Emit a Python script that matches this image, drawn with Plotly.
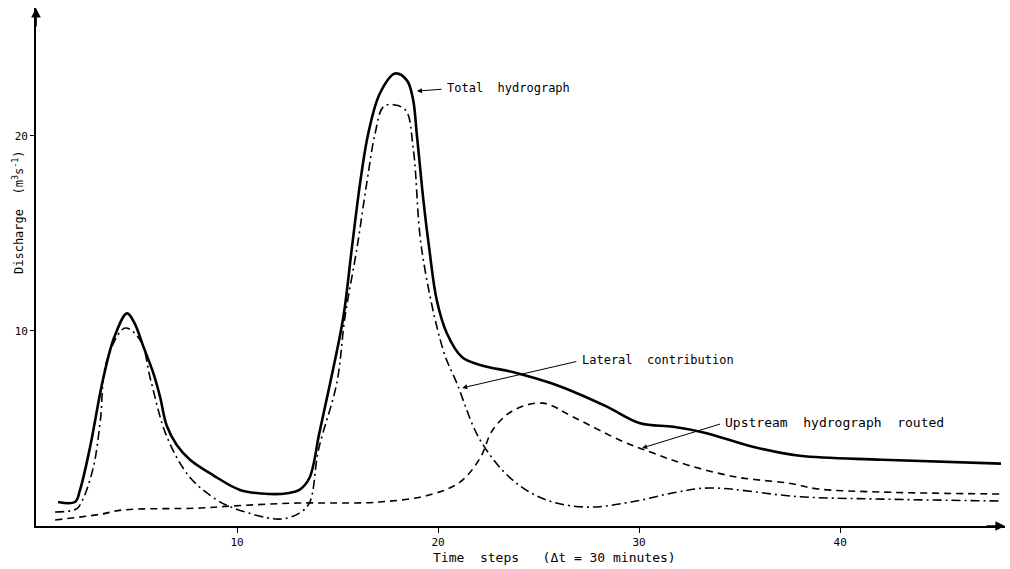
import plotly.graph_objects as go

# ---- data ----
total_x = [1.1, 1.94, 2.19, 2.69, 3.33, 3.9, 4.53, 4.9, 5.34, 5.84, 6.17, 6.5, 7.0, 7.66,
           8.82, 10.15, 11.6, 12.5, 13.1, 13.6, 14.1, 14.63, 15.29, 15.7, 16.12, 16.53,
           17.11, 17.86, 18.45, 18.75, 18.95, 19.27, 19.57, 19.93, 20.43, 21.2, 22.1,
           23.9, 25.6, 26.7, 28.4, 30.05, 31.7, 33.2, 35.7, 38.0, 42.1, 48.0]
total_y = [1.23, 1.23, 1.85, 4.05, 7.5, 9.7, 10.9, 10.4, 9.2, 7.83, 6.63, 5.15, 4.15, 3.4,
           2.6, 1.85, 1.64, 1.68, 1.85, 2.46, 4.8, 7.32, 10.73, 14.15, 17.57, 20.14,
           22.19, 23.2, 22.85, 21.9, 20.0, 16.7, 14.15, 11.6, 9.9, 8.65, 8.26,
           7.85, 7.33, 6.9, 6.12, 5.27, 5.09, 4.8, 4.05, 3.6, 3.4, 3.2]

lateral_x = [0.95, 2.0, 2.3, 2.85, 3.2, 3.5, 4.43, 5.2, 5.7, 6.5, 7.65, 9.0, 9.65, 11.5,
             12.3, 13.1, 13.6, 14.05, 14.96, 15.37, 15.95, 16.45, 16.87, 17.28, 17.8, 18.4,
             18.77, 19.19, 20.26, 20.93, 22.09, 23.7, 25.4, 27.4, 29.6, 31.9, 33.5, 38.0,
             42.1, 48.0]
lateral_y = [0.72, 0.87, 1.3, 3.0, 5.4, 8.4, 10.15, 9.5, 7.5, 4.6, 2.5, 1.33, 0.99, 0.42,
             0.37, 0.66, 1.18, 3.9, 7.32, 10.73, 14.15, 17.57, 20.14, 21.5, 21.6, 21.3,
             19.3, 14.15, 9.0, 7.33, 4.41, 2.36, 1.33, 0.97, 1.23, 1.74, 1.95, 1.5,
             1.38, 1.28]

upstream_x = [0.95, 3.2, 4.3, 8.2, 9.8, 13.1, 14.6, 17.1, 19.6, 21.1, 22.1, 22.7, 23.7,
              25.2, 26.7, 29.05, 30.7, 32.4, 34.9, 37.4, 38.9, 42.1, 48.0]
upstream_y = [0.31, 0.6, 0.82, 0.92, 1.03, 1.18, 1.18, 1.23, 1.6, 2.26, 3.5, 4.9, 5.9,
              6.3, 5.6, 4.4, 3.74, 3.13, 2.5, 2.2, 1.9, 1.74, 1.64]

x_ticks = [10, 20, 30, 40]
y_ticks = [10, 20]

FONT = "DejaVu Sans Mono"
SM = 1.0

fig = go.Figure()
fig.add_trace(go.Scatter(x=total_x, y=total_y, mode="lines",
                         line=dict(color="black", width=2.6, shape="spline", smoothing=SM)))
fig.add_trace(go.Scatter(x=lateral_x, y=lateral_y, mode="lines",
                         line=dict(color="black", width=1.6, shape="spline", smoothing=SM,
                                   dash="9px,4px,2px,4px")))
fig.add_trace(go.Scatter(x=upstream_x, y=upstream_y, mode="lines",
                         line=dict(color="black", width=1.6, shape="spline", smoothing=SM,
                                   dash="7px,5px")))

ann = []
# labels
ann.append(dict(x=20.35, y=22.46, xref="x", yref="y", text="Total  hydrograph",
                showarrow=False, xanchor="left", yanchor="middle",
                font=dict(family=FONT, size=12, color="black")))
ann.append(dict(x=27.06, y=8.5, xref="x", yref="y", text="Lateral  contribution",
                showarrow=False, xanchor="left", yanchor="middle",
                font=dict(family=FONT, size=12, color="black")))
ann.append(dict(x=34.18, y=5.33, xref="x", yref="y", text="Upstream  hydrograph  routed",
                showarrow=False, xanchor="left", yanchor="middle",
                font=dict(family=FONT, size=13, color="black")))
# leader arrows
for tip, tail in [((18.95, 22.3), (20.25, 22.4)),
                  ((21.2, 7.08), (26.95, 8.45)),
                  ((30.15, 4.0), (34.1, 5.25))]:
    ann.append(dict(x=tip[0], y=tip[1], ax=tail[0], ay=tail[1], xref="x", yref="y",
                    axref="x", ayref="y", text="", showarrow=True, arrowhead=2,
                    arrowsize=1, arrowwidth=1, arrowcolor="black"))
# axis arrows
ann.append(dict(x=0, y=1, xref="paper", yref="paper", ax=0, ay=20, text="",
                showarrow=True, arrowhead=2, arrowsize=1.2, arrowwidth=1.6, arrowcolor="black"))
ann.append(dict(x=1, y=0, xref="paper", yref="paper", ax=-20, ay=0, text="",
                showarrow=True, arrowhead=2, arrowsize=1.2, arrowwidth=1.6, arrowcolor="black"))
# axis titles
ann.append(dict(x=25.8, y=0, xref="x", yref="paper", yshift=-31, text="Time  steps   (\u0394t = 30 minutes)",
                showarrow=False, xanchor="center", yanchor="middle",
                font=dict(family=FONT, size=13, color="black")))
ann.append(dict(x=0, y=16.1, xref="paper", yref="y", xshift=-18,
                text="Discharge  (m<sup>3</sup>s<sup>-1</sup>)", textangle=-90,
                showarrow=False, xanchor="center", yanchor="middle",
                font=dict(family=FONT, size=12, color="black")))

fig.update_layout(
    width=1010, height=569,
    margin=dict(l=36, r=5, t=8, b=43),
    paper_bgcolor="white", plot_bgcolor="white",
    showlegend=False,
    annotations=ann,
    xaxis=dict(range=[0, 48.2], tickvals=x_ticks, ticktext=[str(v) for v in x_ticks],
               showgrid=False, zeroline=False, showline=True, linecolor="black", linewidth=1.6,
               ticks="outside", ticklen=5, tickwidth=1.2, tickcolor="black",
               tickfont=dict(family=FONT, size=11, color="black")),
    yaxis=dict(range=[0, 26.56], tickvals=y_ticks, ticktext=[str(v) for v in y_ticks],
               showgrid=False, zeroline=False, showline=True, linecolor="black", linewidth=1.6,
               ticks="outside", ticklen=4, tickwidth=1.2, tickcolor="black",
               tickfont=dict(family=FONT, size=11, color="black")),
)

fig.write_html("out.html")
